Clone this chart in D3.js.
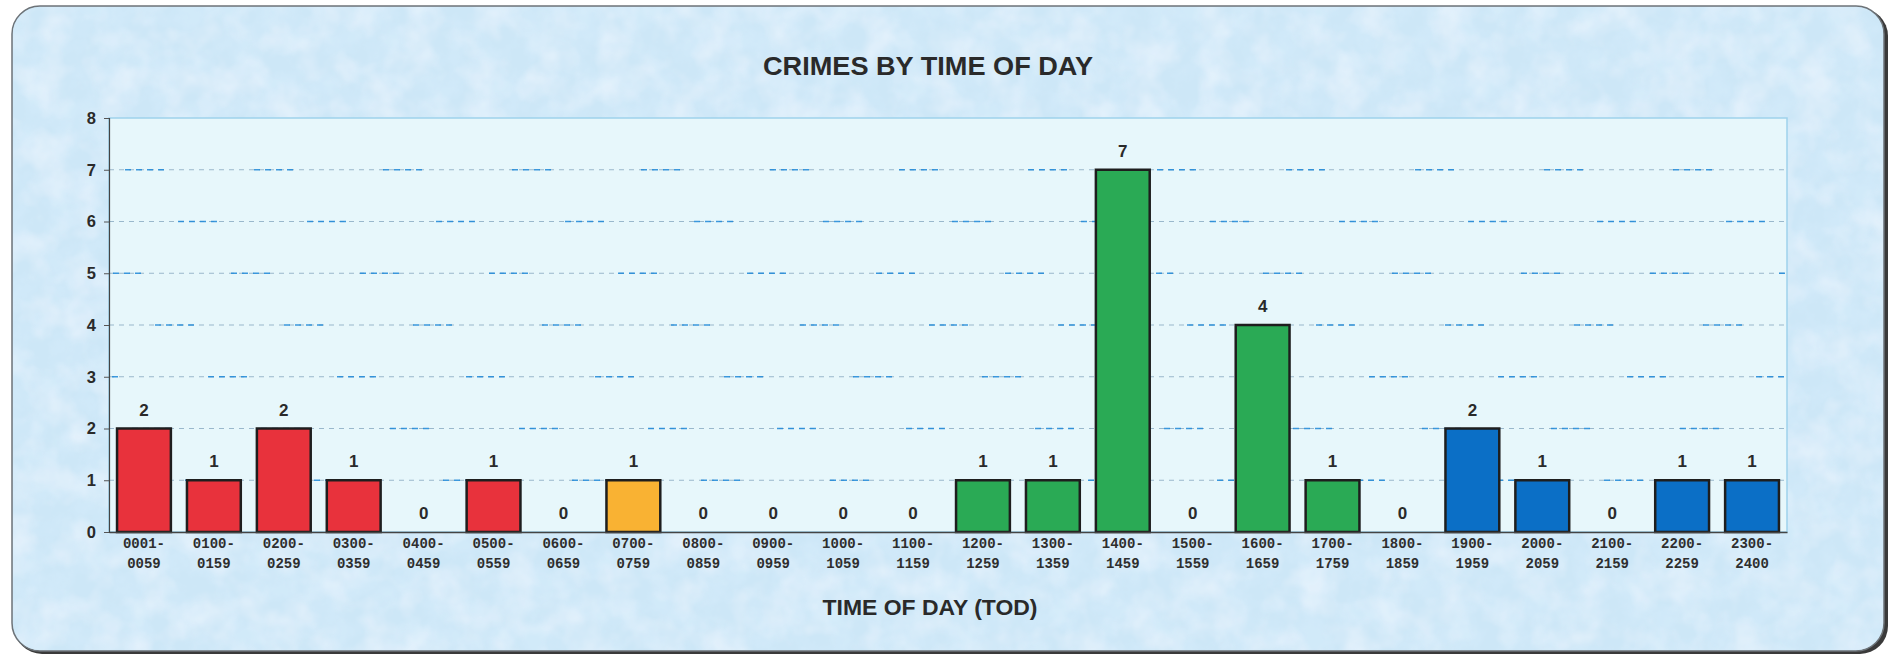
<!DOCTYPE html>
<html>
<head>
<meta charset="utf-8">
<script src="https://cdn.jsdelivr.net/npm/d3@7"></script>
<style>
  html, body { margin: 0; padding: 0; background: #ffffff; }
  svg { display: block; }
</style>
</head>
<body>
<svg id="chart" width="1890" height="656"></svg>
<script>
// ---- Data ----
const categories = ["0001-0059","0100-0159","0200-0259","0300-0359","0400-0459","0500-0559",
  "0600-0659","0700-0759","0800-0859","0900-0959","1000-1059","1100-1159",
  "1200-1259","1300-1359","1400-1459","1500-1559","1600-1659","1700-1759",
  "1800-1859","1900-1959","2000-2059","2100-2159","2200-2259","2300-2400"];
const values = [2,1,2,1,0,1,0,1,0,0,0,0,1,1,7,0,4,1,0,2,1,0,1,1];
const shifts = ["night","night","night","night","night","night","night","day","day","day","day","day",
  "afternoon","afternoon","afternoon","afternoon","afternoon","afternoon","afternoon",
  "evening","evening","evening","evening","evening"];
const shiftNames = ["night","day","afternoon","evening"];
const shiftColors = ["#e8323c","#f9b233","#2aaa55","#0b6fc6"];
const yTicks = [0,1,2,3,4,5,6,7,8];
const titleText = "CRIMES BY TIME OF DAY";
const xTitleText = "TIME OF DAY (TOD)";

// ---- Layout ----
const plot = { left: 109, right: 1787, top: 118, bottom: 532 };

const svg = d3.select("#chart");
const defs = svg.append("defs");

// mottled blue texture
const f = defs.append("filter").attr("id","mottle").attr("x",0).attr("y",0).attr("width","100%").attr("height","100%");
f.append("feTurbulence").attr("type","fractalNoise").attr("baseFrequency","0.04").attr("numOctaves",4).attr("seed",7).attr("result","noise");
f.append("feColorMatrix").attr("in","noise").attr("type","matrix")
  .attr("values","0 0 0 0 0.64  0 0 0 0 0.82  0 0 0 0 0.95  0 0 0 -2.6 1.7").attr("result","tint");
f.append("feComposite").attr("in","tint").attr("in2","SourceGraphic").attr("operator","in");

const f2 = defs.append("filter").attr("id","mottle2").attr("x",0).attr("y",0).attr("width","100%").attr("height","100%");
f2.append("feTurbulence").attr("type","fractalNoise").attr("baseFrequency","0.03").attr("numOctaves",3).attr("seed",21).attr("result","noise");
f2.append("feColorMatrix").attr("in","noise").attr("type","matrix")
  .attr("values","0 0 0 0 0.93  0 0 0 0 0.95  0 0 0 0 1.0  0 0 0 -2.2 1.35").attr("result","tint");
f2.append("feComposite").attr("in","tint").attr("in2","SourceGraphic").attr("operator","in");

// frame shadow
svg.append("rect").attr("x",14).attr("y",8).attr("width",1874).attr("height",646)
  .attr("rx",28).attr("fill","#3a3a3a");
// frame base
svg.append("rect").attr("x",12).attr("y",6).attr("width",1872).attr("height",645)
  .attr("rx",28).attr("fill","#cde7f7").attr("stroke","#6d7378").attr("stroke-width",1.5);
// texture overlays
svg.append("rect").attr("x",13).attr("y",7).attr("width",1870).attr("height",643)
  .attr("rx",27).attr("fill","#cde7f7").attr("filter","url(#mottle)");
svg.append("rect").attr("x",13).attr("y",7).attr("width",1870).attr("height",643)
  .attr("rx",27).attr("fill","#cde7f7").attr("filter","url(#mottle2)").attr("opacity",0.45);

// plot panel
svg.append("rect").attr("x",plot.left).attr("y",plot.top)
  .attr("width",plot.right-plot.left).attr("height",plot.bottom-plot.top)
  .attr("fill","#e7f7fb").attr("stroke","#9ed2ec").attr("stroke-width",1.5);

// ---- Scales ----
const x = d3.scaleBand().domain(categories).range([plot.left, plot.right]).paddingInner(0.23).paddingOuter(0.115);
const y = d3.scaleLinear().domain([0,8]).range([plot.bottom, plot.top]);
const color = d3.scaleOrdinal().domain(shiftNames).range(shiftColors);

// gridlines
const inner = yTicks.filter(d => d > 0 && d < 8);
const grid = svg.append("g");
grid.selectAll("line.a").data(inner).join("line").attr("class","a")
  .attr("x1",plot.left).attr("x2",plot.right)
  .attr("y1",d=>y(d)).attr("y2",d=>y(d))
  .attr("stroke","#9ab8cc").attr("stroke-width",1.1).attr("stroke-dasharray","5,5");
grid.selectAll("line.b").data(inner).join("line").attr("class","b")
  .attr("x1",plot.left).attr("x2",plot.right)
  .attr("y1",d=>y(d)).attr("y2",d=>y(d))
  .attr("stroke","#1e88d8").attr("stroke-width",1.6).attr("stroke-dasharray","6,5,6,5,6,5,6,90")
  .attr("stroke-dashoffset",d=>d*53).attr("opacity",0.85);

// y axis
const yAxis = d3.axisLeft(y).tickValues(yTicks).tickSize(5).tickPadding(8).tickFormat(d3.format("d"));
const gy = svg.append("g").attr("transform",`translate(${plot.left},0)`).call(yAxis);
gy.select(".domain").attr("stroke","#444").attr("stroke-width",1.2);
gy.selectAll(".tick line").attr("stroke","#555");
gy.selectAll(".tick text").attr("font-family","Liberation Sans, Arial, sans-serif")
  .attr("font-weight","bold").attr("font-size",16.5).attr("fill","#2a2a2a");

// bars
svg.append("g").selectAll("rect").data(categories.map((c,i)=>({c, v: values[i], s: shifts[i]})))
  .join("rect")
  .attr("x",d=>x(d.c)).attr("width",x.bandwidth())
  .attr("y",d=>y(d.v)).attr("height",d=>y(0)-y(d.v))
  .attr("fill",d=>color(d.s)).attr("stroke","#1e1e1e").attr("stroke-width",2.5)
  .attr("display",d=>d.v>0?null:"none");

// x axis line
const xAxis = d3.axisBottom(x).tickSize(0).tickFormat("");
const gx = svg.append("g").attr("transform",`translate(0,${plot.bottom})`).call(xAxis);
gx.select(".domain").attr("stroke","#444").attr("stroke-width",1.5);

// x labels (two lines)
const xl = svg.append("g").selectAll("text").data(categories).join("text")
  .attr("x",d=>x(d)+x.bandwidth()/2).attr("text-anchor","middle")
  .attr("font-family","Liberation Mono, Courier New, monospace").attr("font-weight","bold")
  .attr("font-size",14).attr("fill","#2e2e2e");
xl.append("tspan").attr("x",d=>x(d)+x.bandwidth()/2).attr("y",548).text(d=>d.split("-")[0]+"-");
xl.append("tspan").attr("x",d=>x(d)+x.bandwidth()/2).attr("y",568).text(d=>d.split("-")[1]);

// value labels
svg.append("g").selectAll("text").data(categories.map((c,i)=>({c, v: values[i]}))).join("text")
  .attr("x",d=>x(d.c)+x.bandwidth()/2).attr("y",d=>y(d.v)-13)
  .attr("text-anchor","middle")
  .attr("font-family","Liberation Sans, Arial, sans-serif").attr("font-weight","bold")
  .attr("font-size",17).attr("fill","#2a2a2a").text(d=>d.v);

// titles
svg.append("text").attr("x",928).attr("y",75).attr("text-anchor","middle")
  .attr("font-family","Liberation Sans, Arial, sans-serif").attr("font-weight","bold")
  .attr("font-size",25).attr("fill","#2a2a2a")
  .attr("textLength",330).attr("lengthAdjust","spacingAndGlyphs").text(titleText);
svg.append("text").attr("x",930).attr("y",615).attr("text-anchor","middle")
  .attr("font-family","Liberation Sans, Arial, sans-serif").attr("font-weight","bold")
  .attr("font-size",22).attr("fill","#2a2a2a")
  .attr("textLength",215).attr("lengthAdjust","spacingAndGlyphs").text(xTitleText);
</script>
</body>
</html>
